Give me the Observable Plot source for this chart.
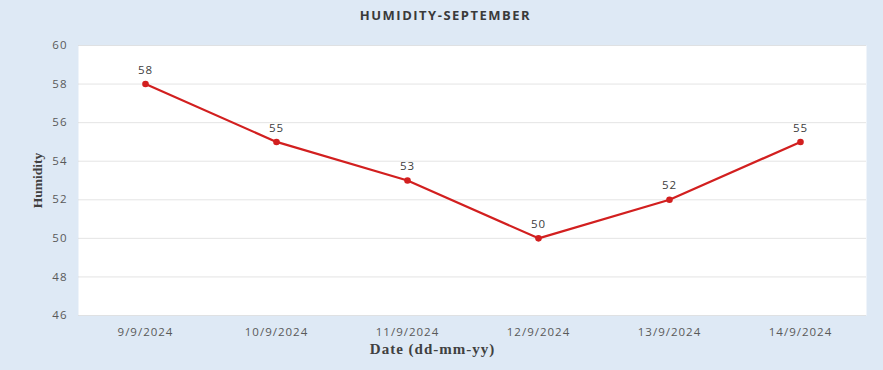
<!DOCTYPE html>
<html><head><meta charset="utf-8">
<script src="https://cdn.jsdelivr.net/npm/d3@7"></script>
<script src="https://cdn.jsdelivr.net/npm/@observablehq/plot@0.6"></script>
<style>
body{margin:0;background:#dee9f5;width:883px;height:370px;overflow:hidden}
#title{height:30px;line-height:30px;text-align:center;font-family:"Open Sans",sans-serif;font-weight:700;font-size:13px;color:#3a3a3a;letter-spacing:1.5px;padding-left:8px}
svg{display:block}
svg text{letter-spacing:1px}
</style></head><body>
<div id="title">HUMIDITY-SEPTEMBER</div>
<div id="chart"></div>
<script>
const dates = ["9/9/2024","10/9/2024","11/9/2024","12/9/2024","13/9/2024","14/9/2024"];
const humidity = [58,55,53,50,52,55];
const yTicks = [46,48,50,52,54,56,58,60];
const data = dates.map((d,i)=>({date:d, value:humidity[i]}));
const chart = Plot.plot({
  width: 883, height: 340,
  marginLeft: 78, marginRight: 17, marginTop: 15, marginBottom: 55,
  style:{background:"transparent", fontFamily:"'Open Sans', sans-serif", fontSize:"11.5px", color:"#595959"},
  x:{type:"point", domain:dates, padding:0.5, label:null, tickSize:0, tickPadding:12},
  y:{domain:[46,60], ticks:yTicks, label:null, tickSize:0, tickPadding:11},
  marks:[
    Plot.frame({fill:"white", stroke:null}),
    Plot.gridY(yTicks, {stroke:"#d9d9d9", strokeOpacity:0.7}),
    Plot.axisX({tickSize:0, tickPadding:12, label:null, fill:"#595959"}),
    Plot.axisY({ticks:yTicks, tickSize:0, tickPadding:11, label:null, fill:"#595959"}),
    Plot.line(data,{x:"date", y:"value", stroke:"#d21f1f", strokeWidth:2.2}),
    Plot.dot(data,{x:"date", y:"value", fill:"#d21f1f", r:3.3}),
    Plot.text(data,{x:"date", y:"value", text:d=>String(d.value), dy:-14, fill:"#404040", fontSize:11.5}),
    Plot.text(["Date (dd-mm-yy)"],{frameAnchor:"bottom", dx:-40, dy:38, fontFamily:"'Liberation Serif', 'Times New Roman', serif", fontWeight:"bold", fontSize:15, fill:"#404040"}),
    Plot.text(["Humidity"],{frameAnchor:"left", textAnchor:"middle", dx:-41, rotate:-90, fontFamily:"'Liberation Serif', 'Times New Roman', serif", fontWeight:"bold", fontSize:13.5, fill:"#404040"})
  ]
});
d3.select(chart).selectAll("text").filter(function(){return this.textContent==="Humidity";}).style("letter-spacing","0px");
document.getElementById("chart").appendChild(chart);
</script>
</body></html>
